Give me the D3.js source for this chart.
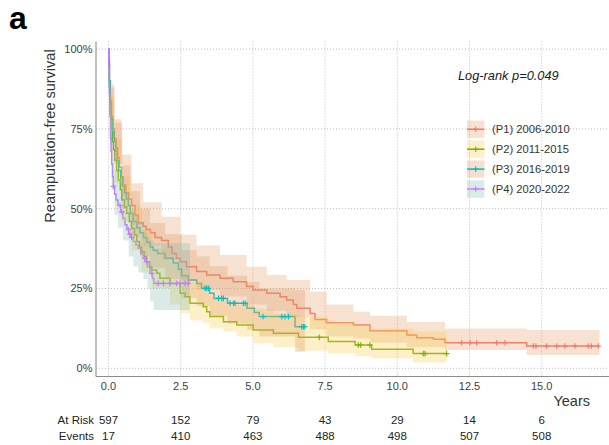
<!DOCTYPE html>
<html>
<head>
<meta charset="utf-8">
<script src="https://cdn.jsdelivr.net/npm/d3@7"></script>
<style>
  html, body { margin: 0; padding: 0; background: #fff; }
  svg { display: block; font-family: "Liberation Sans", Arial, Helvetica, sans-serif; }
</style>
</head>
<body>
<svg id="chart" width="609" height="445"></svg>
<script>
// ---- Risk table ----
const tableYears = [0, 2.5, 5, 7.5, 10, 12.5, 15];
const atRisk = [597, 152, 79, 43, 29, 14, 6];
const events = [17, 410, 463, 488, 498, 507, 508];

// ---- Axes ----
const xTicks = [0, 2.5, 5, 7.5, 10, 12.5, 15];
const xTickLabels = ["0.0", "2.5", "5.0", "7.5", "10.0", "12.5", "15.0"];
const yTicks = [0, 0.25, 0.5, 0.75, 1];
const yTickLabels = ["0%", "25%", "50%", "75%", "100%"];

// ---- Strata ----
const strataNames = ["(P1) 2006-2010", "(P2) 2011-2015", "(P3) 2016-2019", "(P4) 2020-2022"];
const lineColors = ["#F8766D", "#7CAE00", "#00BFC4", "#C77CFF"];
const bandFills = ["#E49B62", "#F8CD48", "#DE9862", "#80B9B2"];

// P1 2006-2010
const p1Time = [0,0.01,0.03,0.06,0.10,0.15,0.20,0.26,0.32,0.38,0.45,0.51,0.60,0.70,0.80,0.92,1.03,1.20,1.30,1.45,1.61,1.84,2.07,2.20,2.35,2.48,2.70,3.05,3.40,3.86,4.32,4.78,5.01,5.48,5.94,6.17,6.40,6.52,6.98,7.15,7.55,8.48,9.05,10.33,10.67,11.25,11.65,14.48];
const p1Surv = [1,0.97,0.90,0.84,0.79,0.75,0.72,0.69,0.66,0.63,0.60,0.575,0.55,0.53,0.51,0.48,0.455,0.445,0.435,0.425,0.41,0.40,0.38,0.36,0.345,0.334,0.318,0.303,0.292,0.282,0.271,0.256,0.245,0.235,0.224,0.214,0.20,0.188,0.172,0.153,0.143,0.136,0.118,0.104,0.096,0.091,0.080,0.070];
const p1End = 17.0;
const p1Censor = [12.23,12.52,12.75,13.44,13.73,14.71,14.80,15.17,15.52,15.80,16.15,16.61,16.72,16.96];
const p1BandTime = [0,0.06,0.20,0.45,0.80,1.20,1.84,2.48,3.05,3.86,4.78,5.48,6.17,6.98,7.55,8.48,9.05,10.33,11.65,14.48];
const p1Low = [1,0.79,0.66,0.54,0.45,0.385,0.34,0.275,0.245,0.225,0.20,0.18,0.16,0.122,0.10,0.093,0.08,0.067,0.057,0.042];
const p1High = [1,0.89,0.78,0.67,0.58,0.52,0.475,0.418,0.385,0.355,0.318,0.292,0.277,0.24,0.20,0.177,0.165,0.145,0.125,0.12];

// P2 2011-2015
const p2Time = [0,0.01,0.03,0.06,0.09,0.13,0.17,0.22,0.28,0.34,0.41,0.46,0.55,0.63,0.72,0.80,0.90,0.98,1.07,1.15,1.24,1.32,1.42,1.50,1.67,1.78,2.13,2.48,2.65,2.82,3.28,3.40,3.51,3.98,4.44,5.01,5.71,6.58,7.61,8.54,9.11,10.55];
const p2Surv = [1,0.95,0.88,0.80,0.75,0.71,0.685,0.652,0.62,0.59,0.56,0.527,0.505,0.486,0.46,0.439,0.418,0.397,0.38,0.365,0.35,0.334,0.318,0.308,0.298,0.282,0.266,0.235,0.224,0.204,0.193,0.177,0.162,0.146,0.136,0.12,0.11,0.097,0.084,0.073,0.06,0.046];
const p2End = 11.71;
const p2Censor = [7.30,8.65,8.73,9.05,10.90,10.96,11.71];
const p2BandTime = [0,0.06,0.22,0.46,0.80,1.15,1.50,2.13,2.48,2.82,3.28,3.51,3.98,4.44,5.01,5.71,6.58,7.61,8.54,9.11,10.55];
const p2Low = [1,0.74,0.58,0.46,0.37,0.30,0.25,0.20,0.172,0.15,0.141,0.125,0.115,0.10,0.078,0.065,0.055,0.047,0.038,0.031,0.018];
const p2High = [1,0.85,0.72,0.60,0.51,0.435,0.375,0.335,0.30,0.27,0.26,0.225,0.21,0.20,0.185,0.17,0.162,0.146,0.136,0.125,0.115];

// P3 2016-2019
const p3Time = [0,0.01,0.03,0.06,0.10,0.15,0.20,0.25,0.30,0.35,0.42,0.48,0.55,0.62,0.69,0.75,0.85,0.98,1.09,1.21,1.32,1.44,1.55,1.70,1.96,2.24,2.42,2.53,2.76,3.05,3.22,3.50,3.65,4.12,4.80,5.05,5.22,6.46];
const p3Surv = [1,0.96,0.90,0.83,0.78,0.74,0.71,0.68,0.65,0.62,0.595,0.57,0.55,0.53,0.51,0.485,0.46,0.44,0.425,0.41,0.395,0.38,0.37,0.36,0.345,0.33,0.31,0.29,0.277,0.266,0.251,0.235,0.219,0.204,0.188,0.175,0.162,0.130];
const p3End = 6.80;
const p3Censor = [3.34,3.40,3.46,3.81,3.92,3.98,4.21,4.33,4.38,4.67,4.73,5.35,6.00,6.11,6.23,6.69,6.75,6.80];
const p3BandTime = [0,0.06,0.20,0.48,0.75,1.09,1.44,1.96,2.53,3.05,3.50,4.12,4.80,5.22,6.46];
const p3Low = [1,0.77,0.64,0.50,0.41,0.35,0.315,0.28,0.22,0.195,0.165,0.14,0.12,0.10,0.052];
const p3High = [1,0.88,0.77,0.635,0.555,0.50,0.455,0.42,0.37,0.35,0.32,0.29,0.27,0.25,0.245];

// P4 2020-2022
const p4Time = [0,0.01,0.03,0.05,0.07,0.09,0.11,0.14,0.17,0.21,0.26,0.33,0.42,0.50,0.57,0.64,0.70,0.78,0.86,0.95,1.03,1.12,1.21,1.28,1.35,1.44,1.52,1.57];
const p4Surv = [1,0.94,0.86,0.79,0.72,0.68,0.64,0.60,0.57,0.545,0.527,0.51,0.49,0.47,0.45,0.435,0.42,0.41,0.397,0.386,0.376,0.36,0.345,0.334,0.318,0.298,0.282,0.266];
const p4End = 2.82;
const p4Censor = [0.17,0.40,0.46,0.69,0.74,0.80,1.26,1.32,1.50,1.72,1.90,2.13,2.36,2.48,2.65,2.76];
const p4BandTime = [0,0.05,0.11,0.21,0.33,0.50,0.70,0.86,1.03,1.21,1.35,1.44,1.57];
const p4Low = [1,0.70,0.56,0.48,0.44,0.40,0.35,0.32,0.30,0.28,0.25,0.21,0.183];
const p4High = [1,0.86,0.72,0.62,0.59,0.55,0.50,0.48,0.46,0.43,0.41,0.40,0.392];

const groups = [
  { time: p1Time, surv: p1Surv, end: p1End, censor: p1Censor, bt: p1BandTime, lo: p1Low, hi: p1High },
  { time: p2Time, surv: p2Surv, end: p2End, censor: p2Censor, bt: p2BandTime, lo: p2Low, hi: p2High },
  { time: p3Time, surv: p3Surv, end: p3End, censor: p3Censor, bt: p3BandTime, lo: p3Low, hi: p3High },
  { time: p4Time, surv: p4Surv, end: p4End, censor: p4Censor, bt: p4BandTime, lo: p4Low, hi: p4High }
];

// ---- Layout ----
const svg = d3.select("#chart");
const panel = { left: 96, right: 609, top: 41.5, bottom: 376.5 };
const x = d3.scaleLinear().domain([0, 15]).range([108.5, 541.7]);
const y = d3.scaleLinear().domain([0, 1]).range([368.3, 49.1]);

// Dotted grid
const grid = svg.append("g");
grid.selectAll("line.gx").data(xTicks).join("line")
  .attr("x1", d => x(d)).attr("x2", d => x(d))
  .attr("y1", panel.top).attr("y2", panel.bottom)
  .attr("stroke", "#b5b5b5").attr("stroke-width", 0.9).attr("stroke-dasharray", "1,2");
grid.selectAll("line.gy").data(yTicks).join("line")
  .attr("x1", panel.left).attr("x2", panel.right)
  .attr("y1", d => y(d)).attr("y2", d => y(d))
  .attr("stroke", "#b5b5b5").attr("stroke-width", 0.9).attr("stroke-dasharray", "1,2");

// Step curves
const stepLine = d3.line().x(d => x(d[0])).y(d => y(d[1])).curve(d3.curveStepAfter);
const stepArea = d3.area().x(d => x(d[0])).y0(d => y(d[1])).y1(d => y(d[2])).curve(d3.curveStepAfter);

const linesG = svg.append("g");
groups.forEach((g, i) => {
  const pts = g.time.map((t, k) => [t, g.surv[k]]);
  pts.push([g.end, g.surv[g.surv.length - 1]]);
  linesG.append("path").attr("d", stepLine(pts))
    .attr("fill", "none").attr("stroke", lineColors[i]).attr("stroke-width", 1.5);
});

// Confidence bands (drawn over the curves)
const bandsG = svg.append("g");
groups.forEach((g, i) => {
  const pts = g.bt.map((t, k) => [t, g.lo[k], g.hi[k]]);
  pts.push([g.end, g.lo[g.lo.length - 1], g.hi[g.hi.length - 1]]);
  bandsG.append("path").attr("d", stepArea(pts))
    .attr("fill", bandFills[i]).attr("fill-opacity", 0.3).attr("stroke", "none");
});

// Censor marks
function survAt(g, t) {
  const k = d3.bisectRight(g.time, t) - 1;
  return g.surv[Math.max(0, k)];
}
const censG = svg.append("g");
groups.forEach((g, i) => {
  g.censor.forEach(t => {
    const cx = x(t), cy = y(survAt(g, t));
    censG.append("path")
      .attr("d", `M${cx - 2.8},${cy}H${cx + 2.8}M${cx},${cy - 2.8}V${cy + 2.8}`)
      .attr("stroke", lineColors[i]).attr("stroke-width", 1.1).attr("fill", "none");
  });
});

// Axis lines
svg.append("line").attr("x1", panel.left).attr("x2", panel.left)
  .attr("y1", panel.top).attr("y2", panel.bottom)
  .attr("stroke", "#8c8c8c").attr("stroke-width", 1.1);
svg.append("line").attr("x1", panel.left).attr("x2", panel.right)
  .attr("y1", panel.bottom).attr("y2", panel.bottom)
  .attr("stroke", "#8c8c8c").attr("stroke-width", 1.1);

// Tick labels
svg.append("g").selectAll("text").data(yTicks).join("text")
  .attr("x", 92.5).attr("y", d => y(d)).attr("dy", "0.35em")
  .attr("text-anchor", "end").attr("font-size", 11).attr("fill", "#404040")
  .text((d, i) => yTickLabels[i]);
svg.append("g").selectAll("text").data(xTicks).join("text")
  .attr("x", d => x(d)).attr("y", 389.5)
  .attr("text-anchor", "middle").attr("font-size", 11).attr("fill", "#404040")
  .text((d, i) => xTickLabels[i]);

// Axis titles
svg.append("text").attr("x", 590).attr("y", 406)
  .attr("text-anchor", "end").attr("font-size", 14.5).attr("fill", "#333")
  .text("Years");
svg.append("text")
  .attr("transform", "translate(55,136) rotate(-90)")
  .attr("text-anchor", "middle").attr("font-size", 14.5).attr("fill", "#333")
  .text("Reamputation-free survival");

// Panel tag
svg.append("text").attr("x", 9).attr("y", 29)
  .attr("font-size", 32).attr("font-weight", "bold").attr("fill", "#000")
  .text("a");

// Log-rank annotation
svg.append("text").attr("x", 458).attr("y", 79.5)
  .attr("font-size", 12.8).attr("font-style", "italic").attr("fill", "#1a1a1a")
  .text("Log-rank p=0.049");

// Legend
const legend = svg.append("g");
strataNames.forEach((name, i) => {
  const cy = 129.3 + i * 19.9;
  legend.append("rect").attr("x", 467).attr("y", cy - 8.7).attr("width", 17.4).attr("height", 17.4)
    .attr("fill", bandFills[i]).attr("fill-opacity", 0.3);
  legend.append("line").attr("x1", 467).attr("x2", 484.4).attr("y1", cy).attr("y2", cy)
    .attr("stroke", lineColors[i]).attr("stroke-width", 1.5);
  legend.append("path")
    .attr("d", `M${475.7 - 2.8},${cy}H${475.7 + 2.8}M${475.7},${cy - 2.8}V${cy + 2.8}`)
    .attr("stroke", lineColors[i]).attr("stroke-width", 1.1);
  legend.append("text").attr("x", 492).attr("y", cy).attr("dy", "0.36em")
    .attr("font-size", 11.2).attr("fill", "#333").text(name);
});

// Numbers at risk / cumulative events
const table = svg.append("g");
table.append("text").attr("x", 94).attr("y", 424).attr("text-anchor", "end")
  .attr("font-size", 11.5).attr("fill", "#222").text("At Risk");
table.append("text").attr("x", 94).attr("y", 440).attr("text-anchor", "end")
  .attr("font-size", 11.5).attr("fill", "#222").text("Events");
table.selectAll("text.r").data(atRisk).join("text").attr("class", "r")
  .attr("x", (d, i) => x(tableYears[i])).attr("y", 424).attr("text-anchor", "middle")
  .attr("font-size", 11.5).attr("fill", "#222").text(d => d);
table.selectAll("text.e").data(events).join("text").attr("class", "e")
  .attr("x", (d, i) => x(tableYears[i])).attr("y", 440).attr("text-anchor", "middle")
  .attr("font-size", 11.5).attr("fill", "#222").text(d => d);
</script>
</body>
</html>
